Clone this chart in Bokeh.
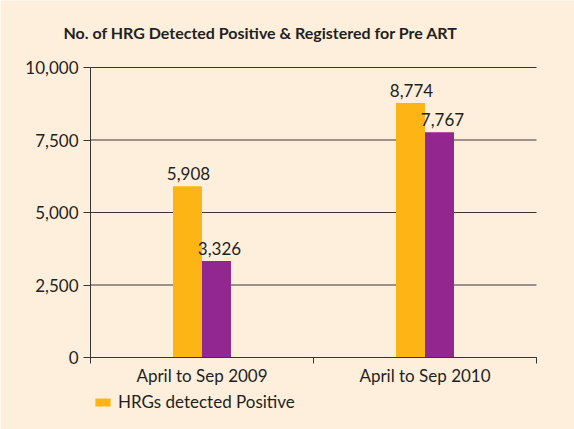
from bokeh.plotting import figure
from bokeh.models import (ColumnDataSource, FixedTicker, NumeralTickFormatter, LabelSet,
                          Legend, LegendItem, Range1d, Label)
from bokeh.transform import dodge
from bokeh.core.properties import value
from bokeh.embed import file_html
from bokeh.resources import INLINE

categories = ["April to Sep 2009", "April to Sep 2010"]
detected = [5908, 8774]
registered = [3326, 7767]
y_ticks = [0, 2500, 5000, 7500, 10000]
title_text = "No. of HRG Detected Positive & Registered for Pre ART"
legend_label = "HRGs detected Positive"

BG = "#FDEFDC"
ORANGE = "#FDB515"
PURPLE = "#92278F"
INK = "#231F20"
AXIS = "#3A3535"
FONT = "Lato"
FS = "17px"

# layout (pixels): the frame covers the whole canvas, the axes sit at fixed spots
W, H = 574, 429
PLOT_L, PLOT_R, PLOT_T, PLOT_B = 90, 536, 67, 357
n = len(categories)
y_max = y_ticks[-1]
px_y = (PLOT_B - PLOT_T) / y_max
px_x = (PLOT_R - PLOT_L) / n
y_lo = -(H - PLOT_B) / px_y
y_hi = y_max + PLOT_T / px_y
x_lo = -PLOT_L / px_x
x_hi = n + (W - PLOT_R) / px_x

xs = [i + 0.5 for i in range(n)]
src = ColumnDataSource(dict(
    x=xs,
    det=detected,
    reg=registered,
    det_lbl=[f"{v:,}" for v in detected],
    reg_lbl=[f"{v:,}" for v in registered],
))

p = figure(width=W, height=H, output_backend="svg", toolbar_location=None,
           x_range=Range1d(x_lo, x_hi), y_range=Range1d(y_lo, y_hi),
           min_border=0)
p.background_fill_color = BG
p.border_fill_color = BG
p.outline_line_color = None
p.xgrid.grid_line_color = None
p.ygrid.grid_line_color = None

# horizontal grid lines, only across the plot area (drawn behind the bars)
p.segment(x0=[0] * len(y_ticks), x1=[n] * len(y_ticks), y0=y_ticks, y1=y_ticks,
          line_color=AXIS, line_width=1)

p.add_layout(Label(x=63, y=H - 32, x_units="screen", y_units="screen", text=title_text,
                   text_align="left", text_baseline="middle", text_font=FONT,
                   text_font_size="16px", text_font_style="bold", text_color=INK))

bw = 0.13
r1 = p.vbar(x=dodge("x", -bw / 2, range=p.x_range), top="det", width=bw, bottom=0,
            source=src, fill_color=ORANGE, line_color=None)
r2 = p.vbar(x=dodge("x", bw / 2, range=p.x_range), top="reg", width=bw, bottom=0,
            source=src, fill_color=PURPLE, line_color=None)

for col, dx, xo in (("det_lbl", -bw / 2, 1), ("reg_lbl", bw / 2, 3)):
    top = "det" if col == "det_lbl" else "reg"
    ls = LabelSet(x=dodge("x", dx, range=p.x_range), y=top, text=col, source=src,
                  text_align="center", text_baseline="bottom", y_offset=6, x_offset=xo,
                  text_font=value(FONT), text_font_size=FS, text_color=INK)
    p.add_layout(ls)

# axes
p.yaxis.fixed_location = 0
p.yaxis.ticker = FixedTicker(ticks=y_ticks, minor_ticks=[])
p.yaxis.bounds = (0, y_max)
p.yaxis.formatter = NumeralTickFormatter(format="0,0")
p.yaxis.major_label_text_font = FONT
p.yaxis.major_label_text_font_size = FS
p.yaxis.major_label_text_color = INK
p.yaxis.axis_line_color = AXIS
p.yaxis.major_tick_line_color = AXIS
p.yaxis.major_tick_out = 7
p.yaxis.major_tick_in = 0
p.yaxis.major_label_standoff = 5

p.xaxis.fixed_location = 0
p.xaxis.bounds = (0, n)
p.xaxis.ticker = FixedTicker(ticks=xs, minor_ticks=list(range(n + 1)))
p.xaxis.major_label_overrides = {x: c for x, c in zip(xs, categories)}
p.xaxis.major_label_text_font = FONT
p.xaxis.major_label_text_font_size = FS
p.xaxis.major_label_text_color = INK
p.xaxis.axis_line_color = AXIS
p.xaxis.major_tick_out = 0
p.xaxis.major_tick_in = 0
p.xaxis.minor_tick_line_color = AXIS
p.xaxis.minor_tick_out = 6
p.xaxis.minor_tick_in = 0
p.xaxis.major_label_standoff = 1

legend = Legend(items=[LegendItem(label=legend_label, renderers=[r1])],
                location=(PLOT_L + 3, 17), orientation="horizontal",
                background_fill_alpha=0, border_line_color=None,
                label_text_font=FONT, label_text_font_size=FS, label_text_color=INK,
                glyph_width=19, glyph_height=10, padding=0, margin=0, label_standoff=6)
p.add_layout(legend)

open("out.html", "w").write(file_html(p, INLINE))
